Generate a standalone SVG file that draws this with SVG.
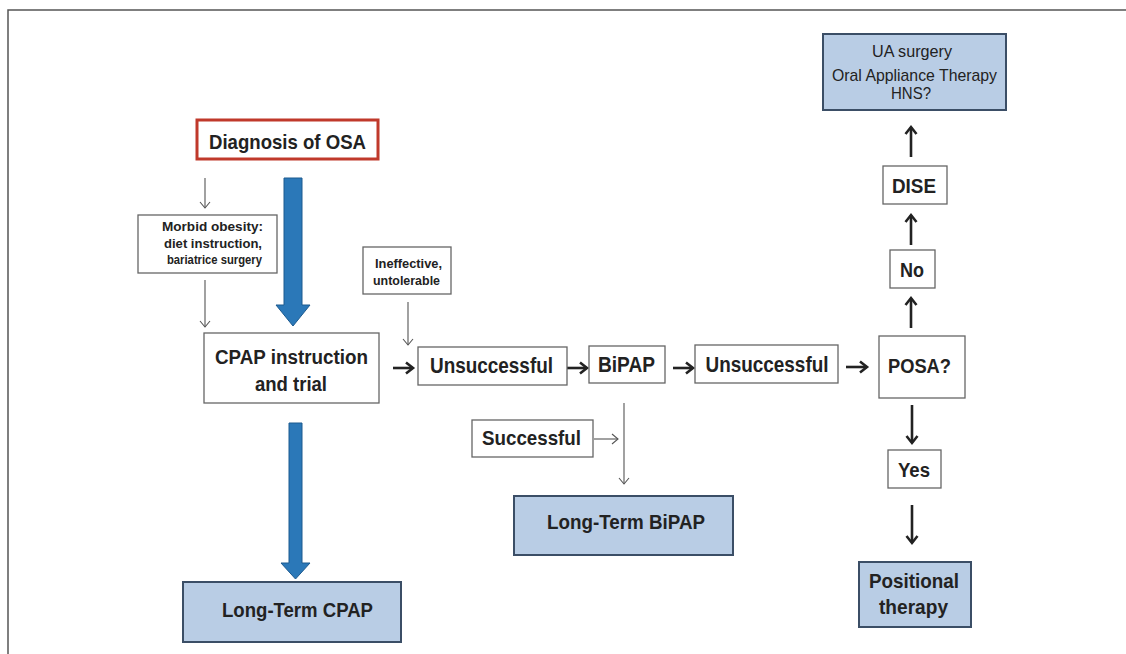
<svg xmlns="http://www.w3.org/2000/svg" width="1126" height="654" viewBox="0 0 1126 654">
<defs>
<style>
.box{fill:#fff;stroke:#666;stroke-width:1.3}
.blue{fill:#b9cde5;stroke:#3b4e66;stroke-width:2}
.t{font-family:"Liberation Sans",Arial,sans-serif;font-weight:bold;fill:#222;text-anchor:middle}
.r{font-weight:normal}
.thin{stroke:#555;stroke-width:1.1;fill:none}
.thick{stroke:#222;stroke-width:2.6;fill:none}
.big{fill:#2b78b8;stroke:#1d5a8f;stroke-width:1}
</style>
<marker id="mt" markerWidth="12" markerHeight="12" refX="9" refY="6" orient="auto" markerUnits="userSpaceOnUse">
<path d="M3,1 L9,6 L3,11" fill="none" stroke="#555" stroke-width="1.1"/>
</marker>
<marker id="mk" markerWidth="14" markerHeight="14" refX="11" refY="7" orient="auto" markerUnits="userSpaceOnUse">
<path d="M4,1.5 L11,7 L4,12.5" fill="none" stroke="#222" stroke-width="2.6"/>
</marker>
</defs>
<rect width="1126" height="654" fill="#fff"/>
<path d="M8,654 L8,10 L1126,10" fill="none" stroke="#555" stroke-width="1.5"/>

<g id="connectors">
<polygon class="big" points="284,178 302,178 302,305 310,305 293,326 276,305 284,305"/>
<polygon class="big" points="289,423 302,423 302,563 310,563 295.5,579 281,563 289,563"/>
<line class="thin" x1="205" y1="178" x2="205" y2="208" marker-end="url(#mt)"/>
<line class="thin" x1="205" y1="280" x2="205" y2="327" marker-end="url(#mt)"/>
<line class="thin" x1="408" y1="302" x2="408" y2="345" marker-end="url(#mt)"/>
<line class="thin" x1="624" y1="403" x2="624" y2="484" marker-end="url(#mt)"/>
<line class="thin" x1="594" y1="439" x2="618" y2="439" marker-end="url(#mt)"/>
<line class="thick" x1="393" y1="368" x2="413" y2="368" marker-end="url(#mk)"/>
<line class="thick" x1="567" y1="368" x2="587" y2="368" marker-end="url(#mk)"/>
<line class="thick" x1="673" y1="368" x2="693" y2="368" marker-end="url(#mk)"/>
<line class="thick" x1="846" y1="367" x2="867" y2="367" marker-end="url(#mk)"/>
<line class="thick" x1="912" y1="405" x2="912" y2="443" marker-end="url(#mk)"/>
<line class="thick" x1="912" y1="505" x2="912" y2="543" marker-end="url(#mk)"/>
<line class="thick" x1="911" y1="328" x2="911" y2="298" marker-end="url(#mk)"/>
<line class="thick" x1="911" y1="245" x2="911" y2="215" marker-end="url(#mk)"/>
<line class="thick" x1="911" y1="157" x2="911" y2="127" marker-end="url(#mk)"/>
</g>

<g id="diagnosis">
<rect x="197" y="120" width="181" height="39" fill="#fff" stroke="#c0392b" stroke-width="3"/>
<text class="t" x="287.5" y="149" font-size="21" textLength="157" lengthAdjust="spacingAndGlyphs">Diagnosis of OSA</text>
</g>
<g id="obesity">
<rect class="box" x="138" y="215" width="139" height="58"/>
<text class="t" x="212.5" y="231" font-size="12.5" textLength="101" lengthAdjust="spacingAndGlyphs">Morbid obesity:</text>
<text class="t" x="213" y="248" font-size="12.5" textLength="98" lengthAdjust="spacingAndGlyphs">diet instruction,</text>
<text class="t" x="214.5" y="264" font-size="12.5" textLength="95" lengthAdjust="spacingAndGlyphs">bariatrice surgery</text>
</g>
<g id="cpap">
<rect class="box" x="204" y="333" width="175" height="70"/>
<text class="t" x="291.5" y="364" font-size="20" textLength="153" lengthAdjust="spacingAndGlyphs">CPAP instruction</text>
<text class="t" x="291" y="391" font-size="20" textLength="72" lengthAdjust="spacingAndGlyphs">and trial</text>
</g>
<g id="ltcpap">
<rect class="blue" x="183" y="582" width="218" height="60"/>
<text class="t" x="297.5" y="617" font-size="20" textLength="151" lengthAdjust="spacingAndGlyphs">Long-Term CPAP</text>
</g>
<g id="ineffective">
<rect class="box" x="363" y="247" width="88" height="47"/>
<text class="t" x="408.5" y="268" font-size="12.5" textLength="67" lengthAdjust="spacingAndGlyphs">Ineffective,</text>
<text class="t" x="406.5" y="285" font-size="12.5" textLength="67" lengthAdjust="spacingAndGlyphs">untolerable</text>
</g>
<g id="unsuccessful1">
<rect class="box" x="418" y="347" width="149" height="38"/>
<text class="t" x="491.5" y="373" font-size="22" textLength="123" lengthAdjust="spacingAndGlyphs">Unsuccessful</text>
</g>
<g id="bipap">
<rect class="box" x="589" y="346" width="76" height="37"/>
<text class="t" x="626.5" y="372" font-size="22" textLength="57" lengthAdjust="spacingAndGlyphs">BiPAP</text>
</g>
<g id="unsuccessful2">
<rect class="box" x="695" y="345" width="143" height="38"/>
<text class="t" x="767" y="372" font-size="22" textLength="123" lengthAdjust="spacingAndGlyphs">Unsuccessful</text>
</g>
<g id="successful">
<rect class="box" x="472" y="420" width="121" height="37"/>
<text class="t" x="531.5" y="445" font-size="21" textLength="99" lengthAdjust="spacingAndGlyphs">Successful</text>
</g>
<g id="ltbipap">
<rect class="blue" x="514" y="496" width="219" height="59"/>
<text class="t" x="626" y="529" font-size="20" textLength="158" lengthAdjust="spacingAndGlyphs">Long-Term BiPAP</text>
</g>
<g id="posa">
<rect class="box" x="879" y="336" width="86" height="62"/>
<text class="t" x="919.5" y="373" font-size="21" textLength="63" lengthAdjust="spacingAndGlyphs">POSA?</text>
</g>
<g id="yes">
<rect class="box" x="888" y="450" width="53" height="38"/>
<text class="t" x="914" y="477" font-size="20" textLength="32" lengthAdjust="spacingAndGlyphs">Yes</text>
</g>
<g id="positional">
<rect class="blue" x="859" y="562" width="112" height="65"/>
<text class="t" x="914" y="588" font-size="21" textLength="90" lengthAdjust="spacingAndGlyphs">Positional</text>
<text class="t" x="913.5" y="614" font-size="21" textLength="69" lengthAdjust="spacingAndGlyphs">therapy</text>
</g>
<g id="no">
<rect class="box" x="890" y="250" width="45" height="38"/>
<text class="t" x="912" y="277" font-size="20" textLength="24" lengthAdjust="spacingAndGlyphs">No</text>
</g>
<g id="dise">
<rect class="box" x="883" y="166" width="64" height="38"/>
<text class="t" x="914" y="193" font-size="21" textLength="44" lengthAdjust="spacingAndGlyphs">DISE</text>
</g>
<g id="ua">
<rect class="blue" x="823" y="34" width="183" height="76" stroke-width="1.5"/>
<text class="t r" x="912" y="57" font-size="17" textLength="80" lengthAdjust="spacingAndGlyphs">UA surgery</text>
<text class="t r" x="914.5" y="81" font-size="17" textLength="165" lengthAdjust="spacingAndGlyphs">Oral Appliance Therapy</text>
<text class="t r" x="911" y="99" font-size="17" textLength="40" lengthAdjust="spacingAndGlyphs">HNS?</text>
</g>
</svg>
